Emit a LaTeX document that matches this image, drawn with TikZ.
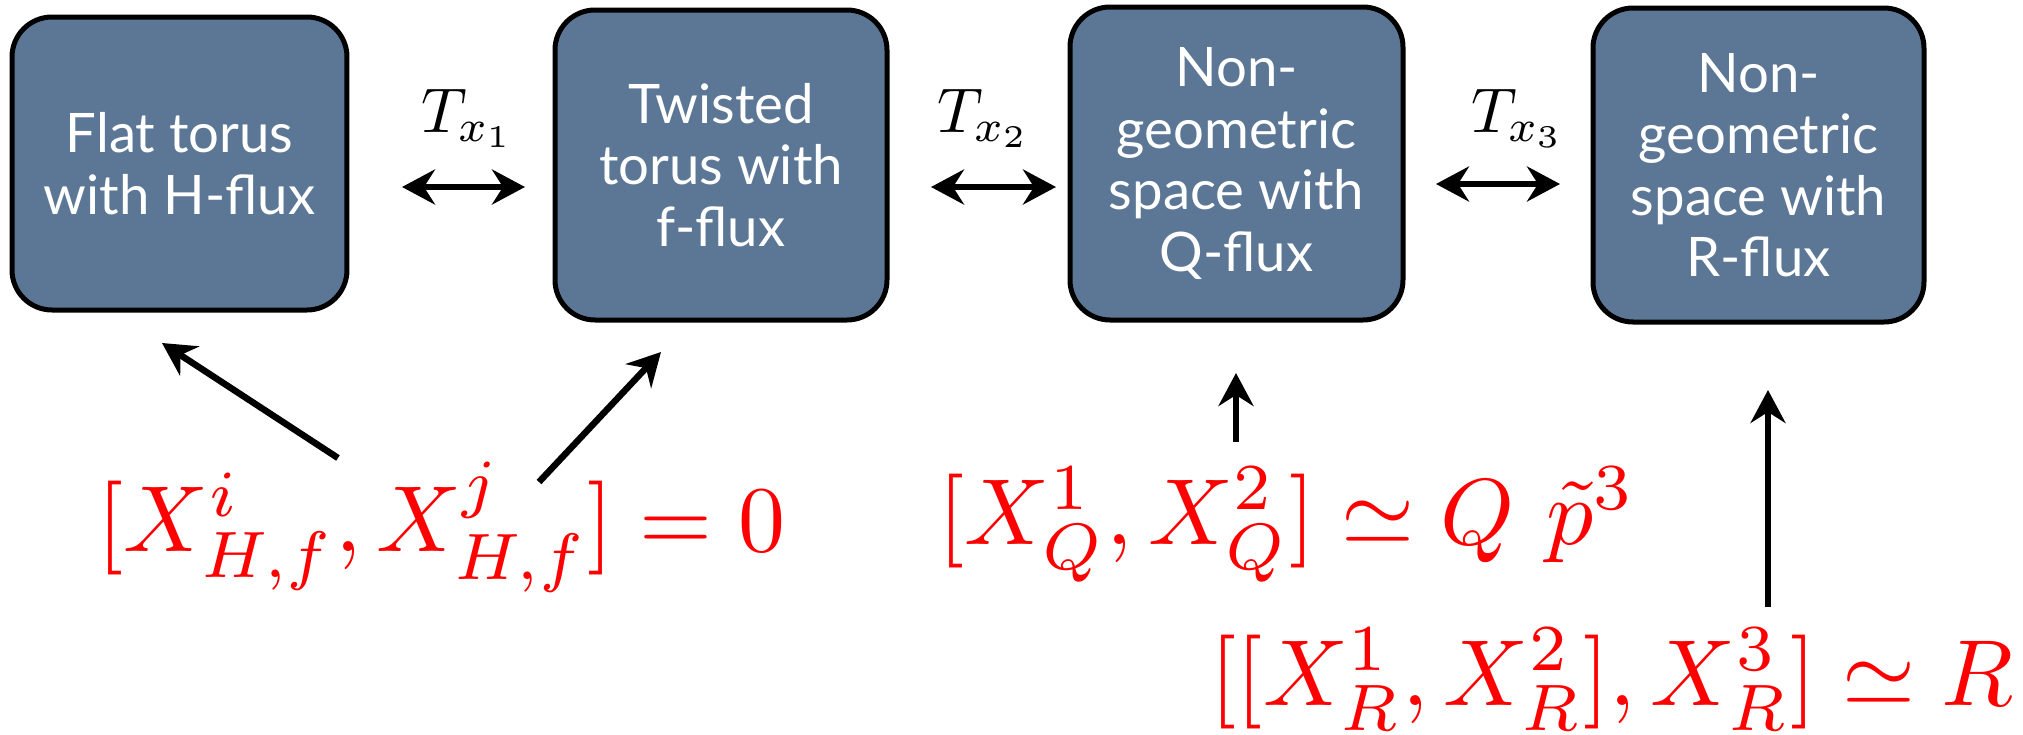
\documentclass[tikz,border=0pt]{standalone}
\usepackage{fontspec}
\newfontfamily\boxfont{Lato}
\usetikzlibrary{arrows.meta}
\definecolor{boxblue}{RGB}{92,119,149}
\definecolor{relred}{RGB}{255,0,0}
\begin{document}
\begin{tikzpicture}[x=0.1mm,y=-0.1mm,
  fbox/.style={draw=black, line width=0.5mm, fill=boxblue, rounded corners=4mm,
    text=white, align=center, inner sep=0pt,
    font=\boxfont\fontsize{15.5}{17.5}\selectfont},
  tip/.tip={Stealth[length=3.3mm,width=3.5mm,inset=1.1mm]},
  conn/.style={line width=0.65mm, -tip},
  dconn/.style={line width=0.65mm, tip-tip},
  rel/.style={text=relred, font=\normalsize, scale=2.67, inner sep=0pt, anchor=base west},
  tlab/.style={font=\normalsize, scale=1.8, inner sep=0pt, anchor=base west}]
\useasboundingbox (0,0) rectangle (2023,735);

% boxes
\node[fbox, minimum width=33.5mm, minimum height=29.3mm] (b1) at (179.5,163.5) {Flat torus\\with H-flux};
\node[fbox, minimum width=33.2mm, minimum height=31.0mm] (b2) at (721,165) {Twisted\\torus with\\f-flux};
\node[fbox, minimum width=33.3mm, minimum height=31.3mm] (b3) at (1236.5,163.5) {Non-\\geometric\\space with\\Q-flux};
\node[fbox, minimum width=33.1mm, minimum height=31.4mm] (b4) at (1758.5,165) {Non-\\geometric\\space with\\R-flux};

% T-duality labels
\node[tlab] (t1) at (420,132) {$T_{x_1}$};
\node[tlab] (t2) at (936,132) {$T_{x_2}$};
\node[tlab] (t3) at (1470,132) {$T_{x_3}$};

% double arrows
\coordinate (d1a) at (402,187); \coordinate (d1b) at (525,187);
\coordinate (d2a) at (931,187); \coordinate (d2b) at (1056,187);
\coordinate (d3a) at (1436,184); \coordinate (d3b) at (1560,184);
\draw[dconn] (d1a) -- (d1b);
\draw[dconn] (d2a) -- (d2b);
\draw[dconn] (d3a) -- (d3b);

% relations
\node[rel] (f1) at (96,551) {$[X^i_{H,f}, X^j_{H,f}] = 0$};
\node[rel] (fq) at (937,544) {$[X^1_Q, X^2_Q] \simeq Q\ \tilde{p}^3$};
\node[rel] (fr) at (1209,705) {$[[X^1_R, X^2_R], X^3_R] \simeq R$};

% arrows from relations to boxes
\coordinate (a1s) at (338,458); \coordinate (a1e) at (162,343);
\coordinate (a2s) at (539,482); \coordinate (a2e) at (661,352);
\coordinate (aqs) at (1236,442); \coordinate (aqe) at (1236,373);
\coordinate (ars) at (1768,607); \coordinate (are) at (1768,390);
\draw[conn] (a1s) -- (a1e);
\draw[conn] (a2s) -- (a2e);
\draw[conn] (aqs) -- (aqe);
\draw[conn] (ars) -- (are);
\end{tikzpicture}
\end{document}
